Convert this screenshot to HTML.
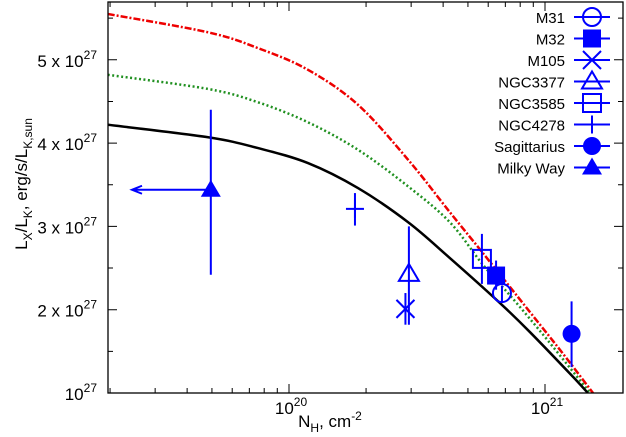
<!DOCTYPE html>
<html><head><meta charset="utf-8"><style>
html,body{margin:0;padding:0;background:#fff;}
svg{display:block;font-family:"Liberation Sans",sans-serif;}
</style></head><body>
<svg id="chart" width="626" height="437" viewBox="0 0 626 437" xmlns="http://www.w3.org/2000/svg">
<defs><clipPath id="clip"><rect x="108" y="2" width="515" height="391"/></clipPath></defs>
<g id="curves" clip-path="url(#clip)"></g>
<g id="axes"></g>
<g id="pts"></g>
<g id="legend"></g>
<text transform="translate(27,184) rotate(-90)" text-anchor="middle" font-size="17">L<tspan font-size="12" dy="5">X</tspan><tspan dy="-5">/L</tspan><tspan font-size="12" dy="5">K</tspan><tspan dy="-5">, erg/s/L</tspan><tspan font-size="12" dy="5">K,sun</tspan></text>
<text x="330" y="427" text-anchor="middle" font-size="17">N<tspan font-size="12" dy="5">H</tspan><tspan dy="-5">, cm</tspan><tspan font-size="12" dy="-7">-2</tspan></text>
</svg>
<script>
// NH in units of 1e20 cm^-2; L in units of 1e27
const blackNH=[0.196,0.483,0.757,1.186,1.86,2.92,4.25,6.67,8.74,12.9,14.7];
const blackL=[4.22,4.07,3.94,3.76,3.46,3.05,2.62,2.08,1.73,1.19,1.0];
const greenNH=[0.196,0.483,0.757,1.186,1.86,2.92,4.25,5.72,7.50,10.2,15.0];
const greenL=[4.82,4.65,4.49,4.25,3.92,3.48,3.05,2.54,2.13,1.64,1.0];
const redNH=[0.196,0.483,0.757,1.186,1.86,2.92,4.25,5.72,8.74,11.7,15.4];
const redL=[5.55,5.33,5.14,4.88,4.46,3.80,3.17,2.68,1.97,1.48,1.0];
const srcNames=["M31","M32","M105","NGC3377","NGC3585","NGC4278","Sagittarius","Milky Way"];
const srcSym=["circle","fsquare","cross","triangle","square","plus","fcircle","ftriangle"];
const srcNH=[6.79,6.44,2.85,2.94,5.67,1.81,12.7,0.495];
const srcL=[2.20,2.41,2.01,2.43,2.61,3.21,1.71,3.44];
const srcLlo=[2.08,2.24,1.82,1.82,2.31,3.01,1.31,2.42];
const srcLhi=[2.29,2.59,2.20,3.00,2.91,3.40,2.10,4.40];
const yTicks=[1,2,3,4,5];
const yTickLabels=["10<tspan font-size='12' dy='-8'>27</tspan>","2 x 10<tspan font-size='12' dy='-8'>27</tspan>","3 x 10<tspan font-size='12' dy='-8'>27</tspan>","4 x 10<tspan font-size='12' dy='-8'>27</tspan>","5 x 10<tspan font-size='12' dy='-8'>27</tspan>"];
const xMajor=[1,10];
const xTickLabels=["10<tspan font-size='12' dy='-8'>20</tspan>","10<tspan font-size='12' dy='-8'>21</tspan>"];

const L=108,R=623,T=2,B=393;
const X=v=>289+256*Math.log10(v);
const Y=v=>B-83.3*(v-1);
const NS="http://www.w3.org/2000/svg";
function mk(tag,at,parent){const e=document.createElementNS(NS,tag);for(const k in at)e.setAttribute(k,at[k]);parent.appendChild(e);return e;}
const axes=document.getElementById('axes');
const fr=mk('rect',{x:L,y:T,width:R-L,height:B-T,fill:'none',stroke:'#000','stroke-width':1.3},axes);


yTicks.forEach((v,i)=>{
  const y=Y(v);
  const t=mk('path',{d:`M${L},${y}h9M${R},${y}h-9`,stroke:'#000','stroke-width':1},axes);
  
  
  const tx=mk('text',{x:97,y:y+7,'text-anchor':'end','font-size':17},axes);
  tx.innerHTML=yTickLabels[i];
  
  
  const m=mk('path',{d:`M${L},${Y(v+0.5)}h5M${R},${Y(v+0.5)}h-5`,stroke:'#000','stroke-width':1},axes);
  
  
});
for(let d=0.1;d<=10;d*=10){
  for(let k=1;k<10;k++){
    const v=d*k,x=X(v);
    if(x<L+1||x>R-1)continue;
    const len=k===1?9:5;
    const t=mk('path',{d:`M${x},${B}v-${len}M${x},${T}v${len}`,stroke:'#000','stroke-width':1},axes);
    
    
  }
}
xMajor.forEach((v,i)=>{
  const tx=mk('text',{x:X(v)+2,y:414,'text-anchor':'middle','font-size':17},axes);
  tx.innerHTML=xTickLabels[i];
  
  
});
function smooth(nh,l){
  const p=nh.map((v,i)=>[X(v),Y(l[i])]);
  let d=`M${p[0][0]},${p[0][1]}`;
  for(let i=0;i<p.length-1;i++){
    const p0=p[i-1]||p[i],p1=p[i],p2=p[i+1],p3=p[i+2]||p2;
    d+=`C${p1[0]+(p2[0]-p0[0])/6},${p1[1]+(p2[1]-p0[1])/6} ${p2[0]-(p3[0]-p1[0])/6},${p2[1]-(p3[1]-p1[1])/6} ${p2[0]},${p2[1]}`;
  }
  return d;
}
const cg=document.getElementById('curves');
const c1=mk('path',{d:smooth(redNH,redL),fill:'none',stroke:'#e00','stroke-width':2.5,'stroke-dasharray':'7,2,2,2'},cg);


const c2=mk('path',{d:smooth(greenNH,greenL),fill:'none',stroke:'#209020','stroke-width':2.5,'stroke-dasharray':'2,2.5'},cg);


const c3=mk('path',{d:smooth(blackNH,blackL),fill:'none',stroke:'#000','stroke-width':2.5},cg);


const BL='#0000ff';
function sym(type,x,y,g){
  const s=9,a={stroke:BL,'stroke-width':2,fill:'none'};
  switch(type){
    case 'circle':mk('circle',Object.assign({cx:x,cy:y,r:s},a),g);break;
    case 'fcircle':mk('circle',{cx:x,cy:y,r:s,fill:BL},g);break;
    case 'fsquare':mk('rect',{x:x-s,y:y-s,width:2*s,height:2*s,fill:BL},g);break;
    case 'square':mk('rect',Object.assign({x:x-s,y:y-s,width:2*s,height:2*s},a),g);break;
    case 'cross':mk('path',Object.assign({d:`M${x-s},${y-s}L${x+s},${y+s}M${x-s},${y+s}L${x+s},${y-s}`},a),g);break;
    case 'plus':mk('path',Object.assign({d:`M${x-s},${y}h${2*s}M${x},${y-s}v${2*s}`},a),g);break;
    case 'triangle':mk('path',Object.assign({d:`M${x},${y-s-1}L${x+s+1},${y+s-2}H${x-s-1}Z`},a),g);break;
    case 'ftriangle':mk('path',{d:`M${x},${y-s-1}L${x+s+1},${y+s-2}H${x-s-1}Z`,fill:BL},g);break;
  }
}
const pg=document.getElementById('pts');
srcNames.forEach((n,i)=>{
  const g=mk('g',{},pg);
  
  
  const x=X(srcNH[i]),y=Y(srcL[i]);
  mk('path',{d:`M${x},${Y(srcLlo[i])}V${Y(srcLhi[i])}`,stroke:BL,'stroke-width':2},g);
  if(n==='Milky Way'){
    mk('path',{d:`M${x},${y}H132M142,${y-4}L132,${y}L142,${y+4}`,stroke:BL,'stroke-width':2,fill:'none'},g);
  }
  sym(srcSym[i],x,y,g);
});
const lg=document.getElementById('legend');
srcNames.forEach((n,i)=>{
  const y=17+i*21.5;
  const g=mk('g',{},lg);
  
  
  const t=mk('text',{x:565,y:y+6,'text-anchor':'end','font-size':15},g);
  t.textContent=n;
  mk('path',{d:`M574,${y}H610`,stroke:BL,'stroke-width':2},g);
  sym(srcSym[i],592,y,g);
});
</script>
</body></html>
